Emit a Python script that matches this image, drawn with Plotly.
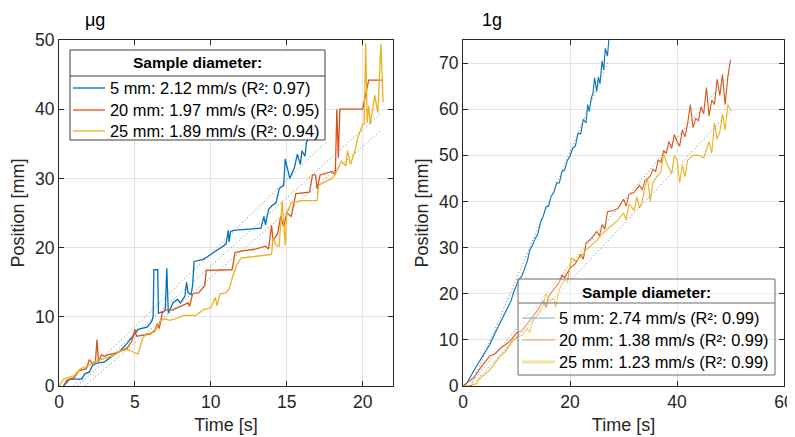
import plotly.graph_objects as go

# ---------------- μg panel data ----------------
ug_t5 = [0.3, 0.7, 1.5, 1.7, 2.0, 2.2, 2.5, 3.0, 3.5, 4.0, 4.5, 4.8, 5.0, 5.2, 5.8, 6.1, 6.2, 6.25, 6.5, 6.55,
         6.9, 7.0, 7.1, 7.2, 7.5, 7.8, 8.0, 8.3, 8.4, 8.5, 8.7, 8.8, 8.9, 9.5, 10.0, 11.0, 11.15, 11.2, 11.3, 11.5,
         13.3, 13.5, 13.6, 13.8, 14.0, 14.3, 14.5, 14.8, 14.9, 15.2, 15.5, 15.7, 15.9, 16.0, 16.2, 16.3, 16.6, 17.2]
ug_y5 = [0, 1.0, 1.0, 1.8, 2.0, 3.0, 3.3, 3.5, 4.3, 5.0, 6.2, 7.0, 7.5, 8.2, 8.5, 9.3, 10.0, 16.8, 16.8, 10.5,
         10.8, 11.0, 17.0, 10.5, 12.0, 12.5, 12.0, 13.0, 15.0, 13.5, 13.2, 14.5, 18.0, 18.3, 19.0, 20.5, 22.5, 20.8, 22.3, 22.5,
         22.8, 24.5, 23.3, 25.5, 26.0, 26.5, 28.5, 29.0, 32.8, 30.0, 31.5, 33.5, 32.0, 34.0, 33.2, 35.2, 36.5, 38.0]

ug_t20 = [0.3, 0.5, 1.0, 1.3, 1.8, 2.0, 2.2, 2.4, 2.5, 2.6, 2.8, 3.0, 3.2, 3.8, 4.2, 4.5, 4.8, 4.9, 5.0, 5.1,
          6.0, 6.3, 6.5, 6.6, 6.8, 7.0, 7.5, 8.0, 8.5, 8.6, 8.8, 9.2, 9.6, 9.7, 11.4, 11.5, 11.6, 12.0, 13.0, 13.6,
          13.8, 14.0, 14.1, 14.4, 14.6, 14.8, 15.0, 15.3, 15.5, 15.6, 16.5, 16.7, 16.9, 17.0, 17.2, 18.0, 18.2, 18.3,
          18.4, 18.5, 20.0, 20.4, 21.3]
ug_y20 = [0, 0.8, 1.2, 2.2, 2.5, 3.8, 3.3, 3.5, 6.7, 3.5, 4.5, 4.3, 4.5, 4.8, 5.2, 5.5, 6.5, 7.5, 8.2, 7.2,
          7.5, 8.0, 9.0, 8.3, 10.5, 11.0, 11.0, 11.5, 12.0, 11.5, 13.3, 13.5, 14.5, 16.7, 16.8, 18.0, 19.3, 19.5, 19.8, 20.2,
          19.8, 23.2, 21.0, 22.0, 24.5, 23.0, 25.0, 24.5, 27.0, 27.8, 28.0, 30.5, 30.5, 28.5, 30.5, 31.0, 30.5, 40.0,
          33.0, 40.0, 40.0, 44.2, 44.2]

ug_t25 = [0, 0.3, 1.0, 1.4, 2.0, 2.3, 3.0, 3.5, 4.0, 4.5, 5.0, 5.2, 5.5, 5.7, 6.3, 6.7, 7.0, 7.3, 7.8, 8.2,
          9.0, 9.5, 10.0, 10.3, 10.4, 10.6, 11.0, 11.2, 11.4, 11.7, 12.0, 13.0, 14.0, 14.1, 14.3, 14.5, 14.7, 14.9, 15.0, 15.3,
          16.0, 17.0, 17.1, 17.5, 18.0, 18.3, 18.6, 18.9, 19.0, 19.2, 19.5, 19.7, 20.0, 20.1, 20.2, 20.3, 20.4, 20.5, 20.8, 21.0,
          21.2, 21.35]
ug_y25 = [0, 1.0, 1.5, 2.5, 3.0, 3.5, 4.0, 4.3, 5.0, 5.3, 4.8, 4.6, 6.8, 7.5, 7.8, 9.5, 9.7, 9.5, 9.8, 10.2,
          10.2, 11.0, 11.3, 12.8, 11.6, 13.3, 13.5, 14.0, 15.5, 17.5, 18.5, 18.8, 19.0, 21.5, 20.3, 20.2, 26.7, 20.3, 25.0, 26.5,
          26.8, 26.8, 29.0, 29.5, 30.0, 31.0, 32.5, 31.8, 34.0, 32.0, 34.0, 36.0, 37.8, 37.8, 49.5, 38.0, 40.5, 37.8, 42.0, 39.5,
          49.5, 41.0]

ug_fit_t5, ug_fit_y5 = [0.95, 17.6], [0.0, 35.3]
ug_fit_t20, ug_fit_y20 = [1.2, 21.2], [0.0, 39.4]
ug_fit_t25, ug_fit_y25 = [1.7, 21.2], [0.0, 36.9]

ug_names = ["5 mm: 2.12 mm/s (R²: 0.97)", "20 mm: 1.97 mm/s (R²: 0.95)", "25 mm: 1.89 mm/s (R²: 0.94)"]

# ---------------- 1g panel data ----------------
g_t5 = [0, 0.5, 1.0, 1.5, 2.0, 2.5, 3.0, 3.5, 4.0, 5.0, 6.0, 7.0, 8.0, 9.0, 9.5, 10.0, 10.5, 11.0, 11.5, 12.0,
        12.5, 13.0, 13.5, 14.0, 14.5, 15.0, 15.5, 16.0, 16.5, 17.0, 17.5, 18.0, 18.5, 19.0, 19.5, 20.0, 20.5, 21.0, 21.5, 22.0,
        22.5, 23.0, 23.3, 23.6, 24.0, 24.3, 24.6, 25.0, 25.3, 25.6, 26.0, 26.3, 26.6, 27.0, 27.3]
g_y5 = [0, 0.3, 1.2, 2.3, 3.3, 4.3, 5.2, 6.1, 7.1, 9.0, 11.5, 13.8, 16.2, 18.5, 20.5, 21.8, 23.2, 23.8, 25.3, 27.0,
        29.5, 30.5, 32.0, 33.0, 35.5, 36.8, 38.8, 39.0, 41.2, 42.0, 44.0, 44.0, 46.5, 46.8, 48.9, 49.8, 51.5, 52.0, 54.8, 54.6,
        57.8, 57.0, 61.0, 59.5, 62.5, 63.5, 66.8, 63.8, 67.0, 65.5, 70.5, 68.5, 73.2, 71.5, 75.5]

g_t20 = [0, 1, 2, 3, 4, 5, 6, 7, 8, 9, 10, 11, 12, 13, 14, 15, 15.5, 16, 17, 18, 18.5, 19, 20, 21, 22, 22.5, 23, 24, 25,
         25.5, 26, 26.5, 27, 28, 29, 30, 30.5, 31, 32, 33, 33.5, 34, 35, 35.5, 36, 36.5, 37, 37.5, 38, 38.5, 39, 39.5, 40,
         40.5, 41, 41.5, 42, 42.5, 43, 43.5, 44, 44.5, 45, 45.5, 46, 46.5, 47, 47.5, 48, 48.5, 49, 49.5, 50]
g_y20 = [0, 1.0, 1.8, 3.5, 5.0, 6.5, 7.0, 8.2, 9.0, 10.0, 11.5, 12.0, 13.5, 15.0, 16.5, 18.5, 17.0, 19.5, 21.0, 22.5,
         24.0, 23.5, 25.5, 26.5, 28.5, 27.5, 31.0, 32.0, 33.5, 32.5, 35.0, 34.0, 37.8, 38.0, 38.5, 40.5, 39.0, 41.5, 42.0,
         43.5, 42.5, 44.5, 45.5, 47.0, 46.5, 49.0, 48.5, 51.0, 50.5, 53.0, 51.5, 54.5, 53.0, 52.0, 55.5, 54.0, 57.0, 61.0,
         56.0, 58.0, 57.5, 60.5, 59.0, 64.7, 58.5, 62.0, 61.0, 66.5, 63.0, 67.5, 61.0, 67.0, 70.7]

g_t25 = [0, 1, 2, 2.5, 3, 4, 5, 6, 7, 8, 9, 10, 11, 12, 12.5, 13, 14, 15, 15.5, 16, 17, 17.3, 18, 19, 19.5, 20, 20.3,
         21, 22, 23, 24, 25, 26, 27, 28, 29, 30, 30.5, 31, 32, 32.5, 33, 33.5, 34, 34.5, 35, 35.5, 36, 37, 37.5, 38, 39,
         39.5, 40, 40.5, 41, 41.5, 42, 43, 44, 45, 45.5, 46, 46.5, 47, 47.5, 48, 48.5, 49, 49.5, 50]
g_y25 = [0, 0, 0.3, 0.5, 1.5, 2.5, 3.5, 5.0, 6.5, 7.5, 9.5, 10.5, 11.0, 12.5, 11.5, 14.0, 15.5, 17.5, 20.0, 18.5,
         19.0, 17.0, 21.0, 23.0, 22.5, 26.0, 27.8, 27.0, 28.0, 29.5, 30.5, 31.5, 33.0, 34.0, 35.0, 36.0, 37.5, 36.0, 39.5,
         38.0, 41.0, 38.5, 40.0, 43.0, 45.0, 40.0, 44.0, 45.0, 46.5, 50.5, 48.5, 46.0, 50.0, 49.0, 44.0, 48.0, 45.3, 49.0,
         50.0, 50.0, 49.5, 51.5, 53.0, 50.5, 57.0, 53.5, 55.0, 59.0, 55.5, 61.0, 59.8]

g_fit_t5, g_fit_y5 = [1.5, 27.1], [0.0, 70.2]
g_fit_t20, g_fit_y20 = [1.0, 50.2], [0.0, 67.9]
g_fit_t25, g_fit_y25 = [1.5, 50.2], [0.0, 59.9]

g_names = ["5 mm: 2.74 mm/s (R²: 0.99)", "20 mm: 1.38 mm/s (R²: 0.99)", "25 mm: 1.23 mm/s (R²: 0.99)"]

colors = ["#0072BD", "#D95319", "#EDB120"]
pale_colors = ["rgba(0,114,189,0.55)", "rgba(217,83,25,0.6)", "rgba(237,177,32,0.4)"]
FONT = "Arial"

# the page body has an 8px margin, so the figure is sized to fill the rest of the window
OFF = 8
W, H = 795 - OFF, 437 - OFF


def px(X):
    return (X - OFF) / W


def py(Y):
    return 1 - (Y - OFF) / H


fig = go.Figure()


def add_panel(ts, ys, fits, names, xa, ya, width):
    for t, y, c, n in zip(ts, ys, colors, names):
        fig.add_trace(go.Scatter(x=t, y=y, mode="lines", name=n, line=dict(color=c, width=width),
                                 xaxis=xa, yaxis=ya, showlegend=False))
    for ft, fy in fits:
        fig.add_trace(go.Scatter(x=ft, y=fy, mode="lines", showlegend=False, hoverinfo="skip",
                                 line=dict(color="#7a7a7a", width=1, dash="1px,2.5px"),
                                 xaxis=xa, yaxis=ya))


add_panel([ug_t5, ug_t20, ug_t25], [ug_y5, ug_y20, ug_y25],
          [(ug_fit_t5, ug_fit_y5), (ug_fit_t20, ug_fit_y20), (ug_fit_t25, ug_fit_y25)],
          ug_names, "x", "y", 1.3)
add_panel([g_t5, g_t20, g_t25], [g_y5, g_y20, g_y25],
          [(g_fit_t5, g_fit_y5), (g_fit_t20, g_fit_y20), (g_fit_t25, g_fit_y25)],
          g_names, "x2", "y2", 1.1)

ydom = [py(386), py(40)]
TFONT = dict(family=FONT, size=18, color="#262626")
axis_common = dict(showgrid=True, gridcolor="#e3e3e3", gridwidth=1, zeroline=False,
                   showline=True, linecolor="#262626", linewidth=1, mirror="ticks",
                   ticks="inside", ticklen=5, tickcolor="#262626", automargin=False,
                   tickfont=dict(family=FONT, size=17.5, color="#262626"))

fig.update_layout(
    width=W, height=H, margin=dict(l=0, r=0, t=0, b=0, autoexpand=False),
    plot_bgcolor="white", paper_bgcolor="white", showlegend=False,
    font=dict(family=FONT, color="#262626"),
    xaxis=dict(domain=[px(59), px(393)], range=[0, 22], tickvals=[0, 5, 10, 15, 20], anchor="y",
               title=dict(text="Time [s]", font=TFONT, standoff=7), **axis_common),
    yaxis=dict(domain=ydom, range=[0, 50], tickvals=[0, 10, 20, 30, 40, 50], anchor="x",
               title=dict(text="Position [mm]", font=TFONT, standoff=5), **axis_common),
    xaxis2=dict(domain=[px(463), px(784)], range=[0, 60], tickvals=[0, 20, 40, 60], anchor="y2",
                title=dict(text="Time [s]", font=TFONT, standoff=7), **axis_common),
    yaxis2=dict(domain=ydom, range=[0, 75], tickvals=[0, 10, 20, 30, 40, 50, 60, 70], anchor="x2",
                title=dict(text="Position [mm]", font=TFONT, standoff=5), **axis_common),
)


def draw_legend(x0, x1, y0, y1, ysep, ytitle, yrows, lx0, lx1, tx, fill, border, line_cols, line_widths, names):
    fig.add_shape(type="rect", xref="paper", yref="paper", x0=px(x0), x1=px(x1), y0=py(y1), y1=py(y0),
                  fillcolor=fill, line=dict(color=border, width=1), layer="above")
    fig.add_shape(type="line", xref="paper", yref="paper", x0=px(x0), x1=px(x1), y0=py(ysep), y1=py(ysep),
                  line=dict(color=border, width=1), layer="above")
    fig.add_annotation(text="<b>Sample diameter:</b>", x=px((x0 + x1) / 2), y=py(ytitle),
                       xref="paper", yref="paper", xanchor="center", yanchor="middle", showarrow=False,
                       font=dict(family=FONT, size=15.5, color="#000"))
    for yr, c, w, n in zip(yrows, line_cols, line_widths, names):
        fig.add_shape(type="line", xref="paper", yref="paper", x0=px(lx0), x1=px(lx1), y0=py(yr), y1=py(yr),
                      line=dict(color=c, width=w), layer="above")
        fig.add_annotation(text=n, x=px(tx), y=py(yr), xref="paper", yref="paper",
                           xanchor="left", yanchor="middle", showarrow=False,
                           font=dict(family=FONT, size=16.4, color="#000"))


draw_legend(70, 325, 50, 140, 76, 63, [88, 110, 131], 73, 105, 108, "white", "#3c3c3c",
            colors, [1.3, 1.3, 1.3], ug_names)
draw_legend(518, 775, 279, 375, 303, 292, [318, 340, 362], 522, 555, 557, "rgba(255,255,255,0.35)", "#6a6a6a",
            pale_colors, [1.2, 1.2, 3], g_names)

fig.add_annotation(text="μg", x=px(83), y=py(20), xref="paper", yref="paper",
                   xanchor="left", yanchor="middle", showarrow=False,
                   font=dict(family=FONT, size=18, color="#000"))
fig.add_annotation(text="1g", x=px(480), y=py(20), xref="paper", yref="paper",
                   xanchor="left", yanchor="middle", showarrow=False,
                   font=dict(family=FONT, size=18, color="#000"))

fig.write_html("out.html")
